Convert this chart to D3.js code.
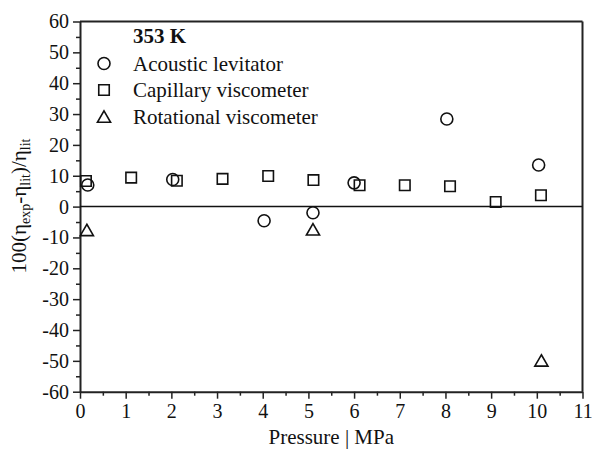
<!DOCTYPE html>
<html>
<head>
<meta charset="utf-8">
<script src="https://cdn.jsdelivr.net/npm/d3@7"></script>
<style>
  body { margin: 0; background: #fff; }
  svg text { font-family: "Liberation Serif", serif; fill: #111; }
</style>
</head>
<body>
<div class="canvas"></div>
<script>
// Data (pressure in MPa, deviation in %)
var acousticP = [0.17, 2.03, 4.03, 5.1, 6.0, 8.03, 10.04];
var acousticDev = [7.0, 8.8, -4.6, -2.0, 7.7, 28.4, 13.5];
var capillaryP = [0.13, 1.12, 2.12, 3.12, 4.12, 5.11, 6.12, 7.11, 8.1, 9.1, 10.09];
var capillaryDev = [8.3, 9.4, 8.4, 9.0, 9.9, 8.6, 6.9, 6.9, 6.6, 1.5, 3.7];
var rotationalP = [0.15, 5.1, 10.1];
var rotationalDev = [-7.7, -7.5, -50];
var xTicks = [0, 1, 2, 3, 4, 5, 6, 7, 8, 9, 10, 11];
var yTicks = [60, 50, 40, 30, 20, 10, 0, -10, -20, -30, -40, -50, -60];
var legendLabels = ['Acoustic levitator', 'Capillary viscometer', 'Rotational viscometer'];

var width = 592, height = 455;
var margin = { top: 21.5, right: 10, left: 80, bottom: 63 };
var graphWidth = 582.5 - margin.left;
var graphHeight = 391.7 - margin.top;
var serif = 'Liberation Serif';

var svg = d3.select('.canvas').append('svg').attr('width', width).attr('height', height);
var graph = svg.append('g').attr('transform', 'translate(' + margin.left + ', ' + margin.top + ')');

var x = d3.scaleLinear().domain([0, 11]).range([0, graphWidth]);
var y = d3.scaleLinear().domain([-60, 60]).range([graphHeight, 0]);

// minor ticks first
var xMinor = d3.range(0.5, 11, 1);
var yMinor = d3.range(-55, 60, 10);
graph.append('g').attr('transform', 'translate(0,' + graphHeight + ')')
  .call(d3.axisBottom(x).tickValues(xMinor).tickSize(4).tickFormat(''))
  .call(function (g) { g.select('.domain').remove(); g.selectAll('line').attr('stroke-width', 1.5).attr('stroke', '#222'); });
graph.append('g')
  .call(d3.axisLeft(y).tickValues(yMinor).tickSize(4).tickFormat(''))
  .call(function (g) { g.select('.domain').remove(); g.selectAll('line').attr('stroke-width', 1.5).attr('stroke', '#222'); });

// major axes (plain hyphen for negatives, like the original)
var fmt = function (d) { return String(d); };
var xAxisGroup = graph.append('g').attr('transform', 'translate(0,' + graphHeight + ')')
  .call(d3.axisBottom(x).tickValues(xTicks).tickSize(7).tickSizeOuter(0).tickPadding(5).tickFormat(fmt));
var yAxisGroup = graph.append('g')
  .call(d3.axisLeft(y).tickValues(yTicks).tickSize(7).tickSizeOuter(0).tickPadding(4).tickFormat(fmt));

[xAxisGroup, yAxisGroup].forEach(function (g) {
  g.attr('font-family', null).attr('font-size', null);
  g.select('.domain').attr('stroke-width', 2).attr('stroke', '#222');
  g.selectAll('.tick line').attr('stroke-width', 1.5).attr('stroke', '#222');
  g.selectAll('.tick text').style('font-family', serif).style('font-size', '20px').attr('fill', '#111');
});

// top and right frame
graph.append('line').attr('x1', 0).attr('x2', graphWidth).attr('y1', 0).attr('y2', 0)
  .attr('stroke', '#222').attr('stroke-width', 2);
graph.append('line').attr('x1', graphWidth).attr('x2', graphWidth).attr('y1', 0).attr('y2', graphHeight)
  .attr('stroke', '#222').attr('stroke-width', 2);

// zero line
graph.append('line').attr('x1', 0).attr('x2', graphWidth).attr('y1', y(0)).attr('y2', y(0))
  .attr('stroke', '#111').attr('stroke-width', 1.5);

var markStyle = function (sel) {
  return sel.attr('fill', 'none').attr('stroke', '#111').attr('stroke-width', 1.6);
};
var sqr = d3.symbol().type(d3.symbolSquare).size(110);
var tri = d3.symbol().type(d3.symbolTriangle).size(75);

// capillary squares
markStyle(graph.selectAll('.cap').data(capillaryP).enter().append('path')
  .attr('d', sqr)
  .attr('transform', function (d, i) { return 'translate(' + x(d) + ',' + y(capillaryDev[i]) + ')'; }));

// acoustic circles
markStyle(graph.selectAll('.aco').data(acousticP).enter().append('circle')
  .attr('r', 6)
  .attr('cx', function (d) { return x(d); })
  .attr('cy', function (d, i) { return y(acousticDev[i]); }));

// rotational triangles
markStyle(graph.selectAll('.rot').data(rotationalP).enter().append('path')
  .attr('d', tri)
  .attr('transform', function (d, i) { return 'translate(' + x(d) + ',' + (y(rotationalDev[i]) + 1.5) + ')'; }));

// legend
var legend = svg.append('g').attr('transform', 'translate(104, 0)');
legend.append('text').attr('x', 29).attr('y', 43).style('font-size', '21px').attr('font-weight', 'bold').text('353 K');
var rowY = [63.5, 90, 117];
markStyle(legend.append('circle').attr('cx', 0).attr('cy', rowY[0]).attr('r', 6));
markStyle(legend.append('path').attr('d', sqr).attr('transform', 'translate(0,' + rowY[1] + ')'));
markStyle(legend.append('path').attr('d', tri).attr('transform', 'translate(0,' + (rowY[2] + 1.5) + ')'));
legend.selectAll('.lab').data(legendLabels).enter().append('text')
  .attr('x', 29).attr('y', function (d, i) { return rowY[i] + 7; })
  .style('font-size', '21px').text(function (d) { return d; });

// axis titles
svg.append('text').attr('x', margin.left + graphWidth / 2).attr('y', 444)
  .attr('text-anchor', 'middle').style('font-size', '21px').text('Pressure | MPa');

var yTitle = svg.append('text').attr('transform', 'translate(26,206) rotate(-90)')
  .attr('text-anchor', 'middle').style('font-size', '21px');
yTitle.append('tspan').text('100(η');
yTitle.append('tspan').style('font-size', '14px').attr('dy', 4).text('exp');
yTitle.append('tspan').attr('dy', -4).text('-η');
yTitle.append('tspan').style('font-size', '14px').attr('dy', 4).text('lit');
yTitle.append('tspan').attr('dy', -4).text(')/η');
yTitle.append('tspan').style('font-size', '14px').attr('dy', 4).text('lit');
</script>
</body>
</html>
